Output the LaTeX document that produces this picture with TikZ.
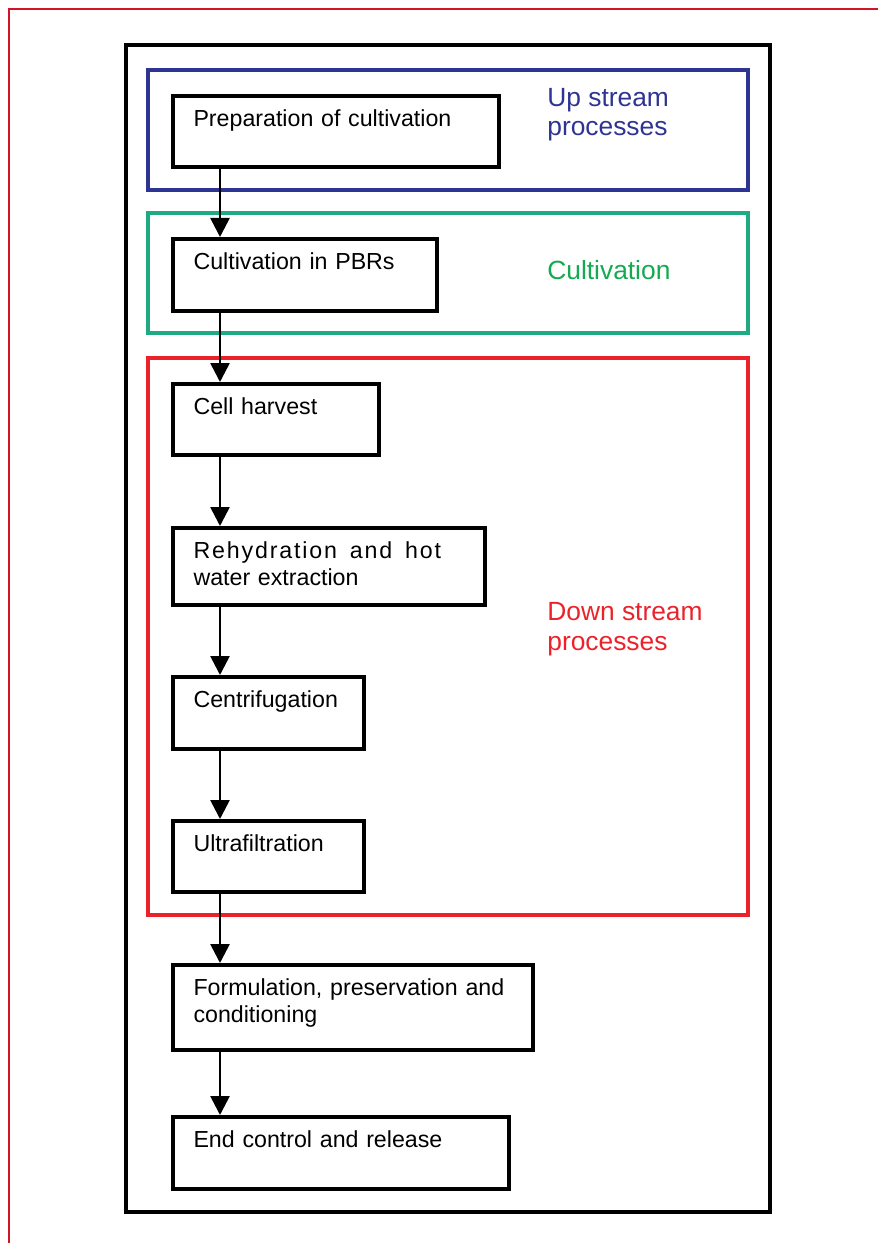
\documentclass[tikz,border=0pt]{standalone}
\usepackage{fontspec}
\setmainfont{Liberation Sans}
\usepackage{xcolor}
\definecolor{FrameRed}{RGB}{210,20,40}
\definecolor{UpBlue}{RGB}{46,52,146}
\definecolor{CultGreen}{RGB}{30,170,130}
\definecolor{CultText}{RGB}{20,170,80}
\definecolor{DownRed}{RGB}{236,34,42}
\usetikzlibrary{arrows.meta}

\tikzset{
  stepbox/.style={draw=black, line width=2.3pt, anchor=north west, align=left,
    inner xsep=4.1mm, inner ysep=0pt, text height=6.1mm, font=\fontsize{13.2}{15.4}\selectfont},
  areabox/.style={line width=1.9pt},
  arealabel/.style={anchor=base west, align=left, inner sep=0pt, font=\fontsize{15}{17}\selectfont},
  flow/.style={-{Triangle[width=3.8mm,length=3.8mm]}, line width=1.5pt}
}

\begin{document}
\begin{tikzpicture}[x=0.2mm, y=-0.2mm]
	\useasboundingbox (0,0) rectangle (878,1243);

	% Frame
	\draw [FrameRed, line width=1.6pt] (9,1243) -- (9,9) -- (878,9);
	\draw [black, line width=2.1pt] (126,45) rectangle (770,1212);

	% Areas
	\draw [areabox, UpBlue] (148,70) rectangle (748,190);
	\draw [areabox, CultGreen] (148,213) rectangle (748,333);
	\draw [areabox, DownRed] (148,358) rectangle (748,915);

	% Steps
	\node[stepbox, text width=57mm, text depth=8.1mm] (prep) at (171,94) {Preparation of cultivation};
	\node[stepbox, text width=44.6mm, text depth=8.3mm] (pbr) at (171,237) {Cultivation in PBRs};
	\node[stepbox, text width=33mm, text depth=8.1mm] (harvest) at (171,382) {Cell harvest};
	\node[stepbox, text width=54.2mm, text depth=9.3mm] (rehyd) at (171,526) {{\addfontfeature{LetterSpace=8}\spaceskip=0.55em Rehydration and hot}\\water extraction};
	\node[stepbox, text width=30mm, text depth=8.3mm] (centri) at (171,675) {Centrifugation};
	\node[stepbox, text width=30mm, text depth=8.1mm] (ultra) at (171,819) {Ultrafiltration};
	\node[stepbox, text width=63.8mm, text depth=10.9mm] (formul) at (171,963) {Formulation, preservation and\\conditioning};
	\node[stepbox, text width=59mm, text depth=8.3mm] (release) at (171,1115) {End control and release};

	% Flows
	\foreach \a/\b in {prep/pbr, pbr/harvest, harvest/rehyd, rehyd/centri, centri/ultra, ultra/formul, formul/release}
		\draw [flow] ([xshift=9.8mm]\a.south west) -- ([xshift=9.8mm]\b.north west);

	% Text
	\node[arealabel, text=UpBlue] (uplabel) at (547,136) {Up stream\\processes};
	\node[arealabel, text=CultText] (cultlabel) at (547,279) {Cultivation};
	\node[arealabel, text=DownRed] (downlabel) at (547,650) {Down stream\\processes};

\end{tikzpicture}
\end{document}
